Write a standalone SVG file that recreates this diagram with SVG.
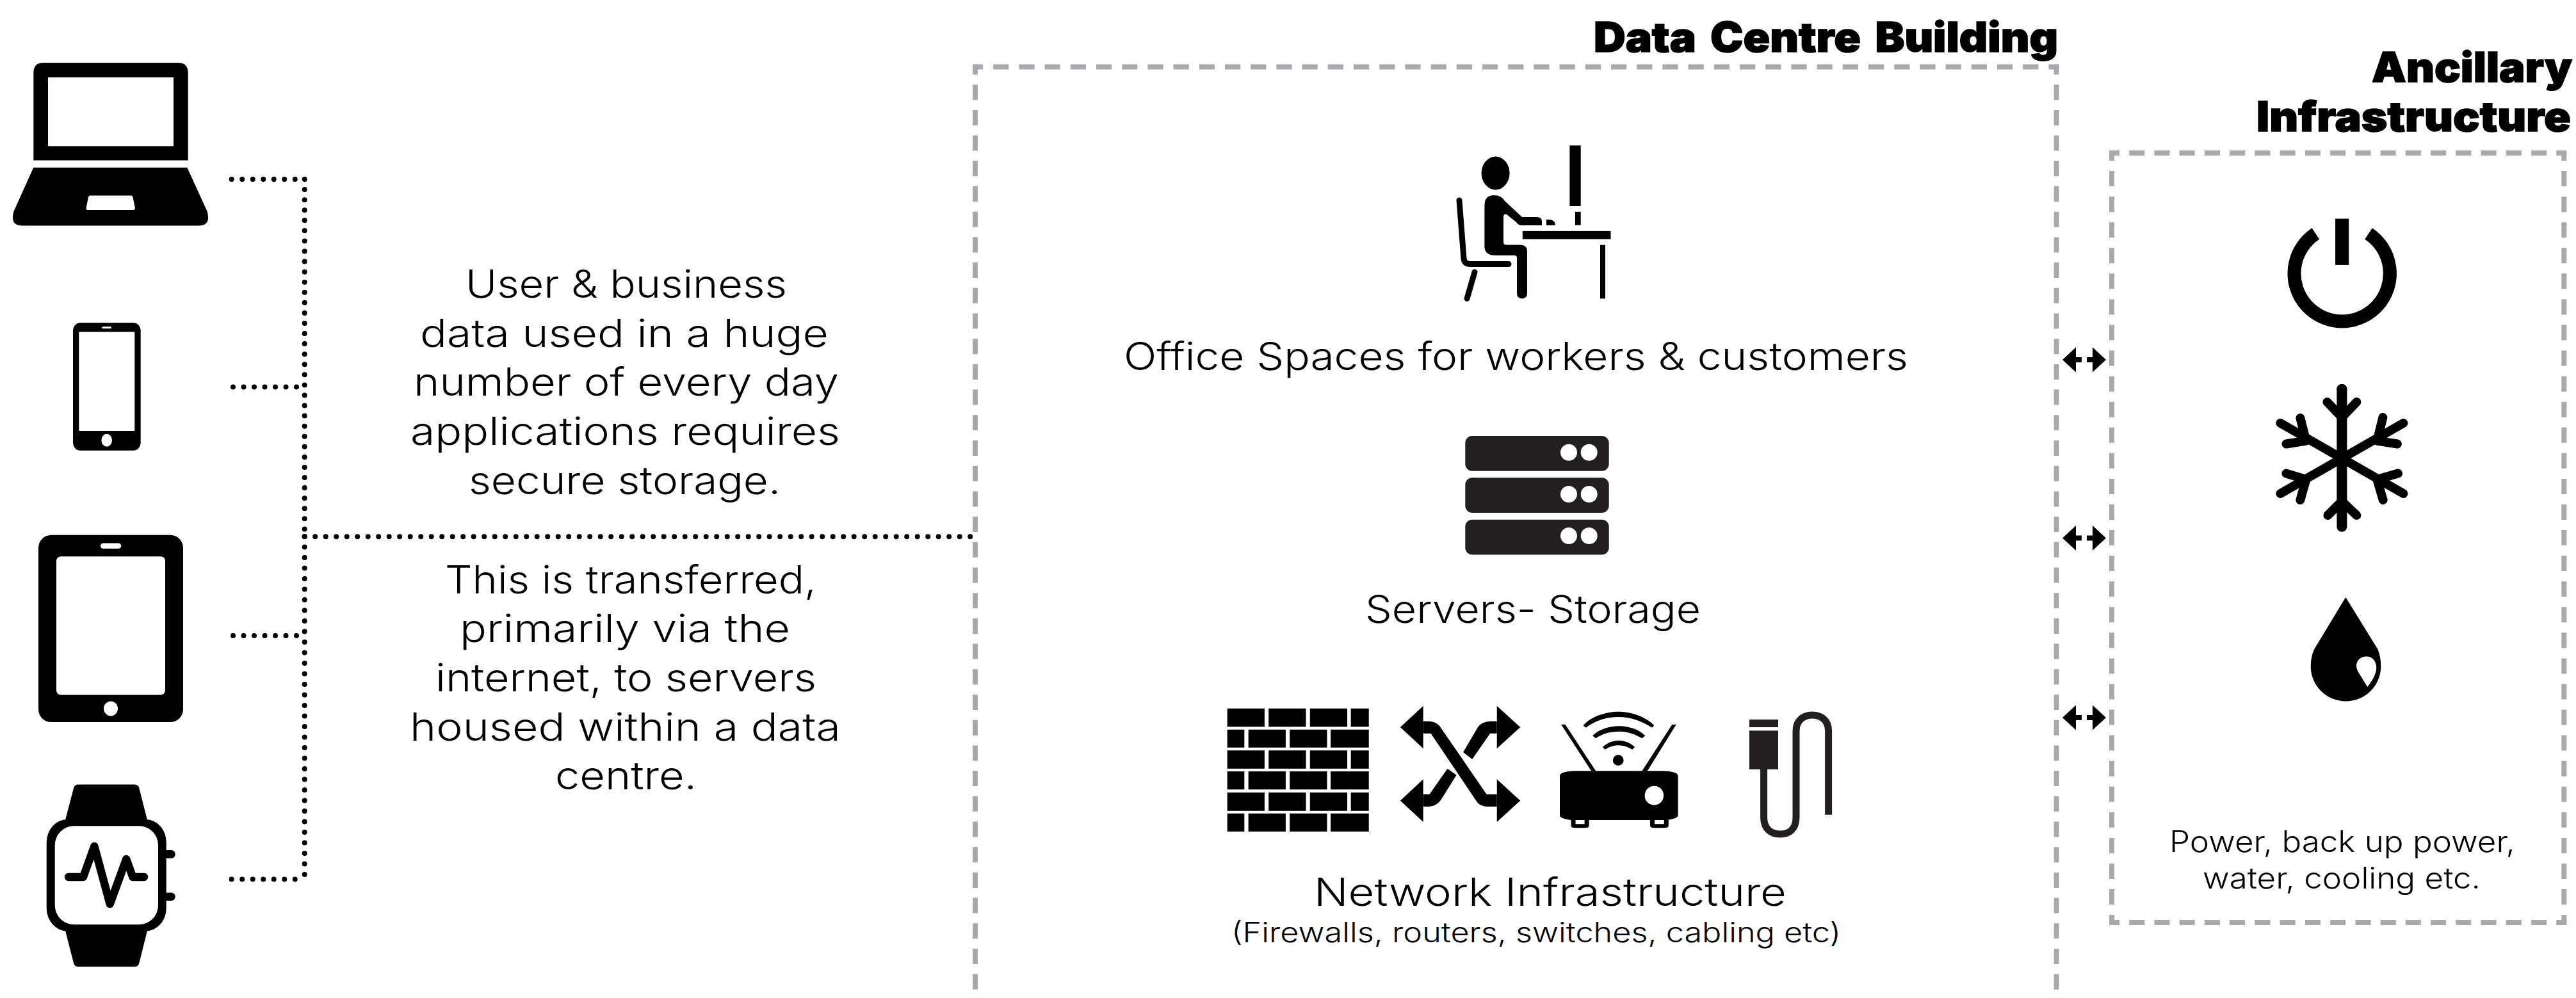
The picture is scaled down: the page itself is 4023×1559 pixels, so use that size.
<svg xmlns="http://www.w3.org/2000/svg" width="4023" height="1559" viewBox="0 0 4023 1559">
<style>
text{fill:#000;font-family:"Inter","Liberation Sans",sans-serif;font-weight:300;text-anchor:start}
.b{font-size:60px}
.t{font-size:64px;font-weight:900;stroke:#000;stroke-width:1.5px;word-spacing:8px}
.s{font-size:43px}
.p{font-size:46px}
.dot{fill:none;stroke:#000;stroke-width:8;stroke-linecap:round;stroke-dasharray:0 16.5}
.dotv{fill:none;stroke:#000;stroke-width:8;stroke-linecap:round;stroke-dasharray:0 16.07}
.box{fill:none;stroke:#a7a9ac;stroke-width:8;stroke-dashoffset:8}
.bh{stroke-dasharray:24.2 16}
.bv{stroke-dasharray:24 15.7}
.ah{stroke-dasharray:24 15.24}
.av{stroke-dasharray:24 16.07}
.w{fill:#fff}
.k{fill:#000}
.d{fill:#231f20}
.ln{fill:none;stroke:#000;stroke-linecap:round;stroke-linejoin:round}
</style>
<defs>
<path id="arr" d="M0,0 L21,-19.5 V-4 H30 V4 H21 V19.5 Z M68,0 L47,-19.5 V-4 H38 V4 H47 V19.5 Z"/>
</defs>
<rect width="4023" height="1559" fill="#fff"/>
<g id="connectors">
<path class="dotv" d="M475.7,280 V838"/>
<path class="dot" d="M475.7,838 V1373.6"/>
<path class="dot" d="M361.7,280 H477"/>
<path class="dot" d="M364,604.6 H477"/>
<path class="dot" d="M364,993 H477"/>
<path class="dot" d="M361.7,1373.6 H477"/>
<path class="dot" d="M475.7,838.2 H1522"/>
<use href="#arr" x="3221" y="562"/>
<use href="#arr" x="3221" y="840.6"/>
<use href="#arr" x="3221" y="1121"/>
</g>
<g id="data-centre-building">
<path class="box bh" d="M1519,104.5 H3215.7"/>
<path class="box bv" d="M1523,100.5 V1559"/>
<path class="box bv" d="M3211.7,100.5 V1559"/>
<text class="t" x="2489" y="81" textLength="725" lengthAdjust="spacingAndGlyphs">Data Centre Building</text>
</g>
<g id="ancillary-infrastructure">
<path class="box ah" d="M3294,239 H4008.3"/>
<path class="box ah" d="M3294,1441 H4008.3"/>
<path class="box av" d="M3298,235 V1445"/>
<path class="box av" d="M4004.3,235 V1445"/>
<text class="t" x="3704" y="128" textLength="313" lengthAdjust="spacingAndGlyphs">Ancillary</text>
<text class="t" x="3524" y="204.7" textLength="491" lengthAdjust="spacingAndGlyphs">Infrastructure</text>
<text class="p" x="3388" y="1331" textLength="540" lengthAdjust="spacingAndGlyphs">Power, back up power,</text>
<text class="p" x="3440" y="1388.4" textLength="434" lengthAdjust="spacingAndGlyphs">water, cooling etc.</text>
</g>
<g id="laptop">
<path class="k" d="M52.3,250.6 V114 Q52.3,98 68,98 H278 Q293.7,98 293.7,114 V250.6 Z"/>
<rect class="w" x="75" y="120.7" width="196" height="107.6"/>
<path class="k" d="M52.3,261.8 H292.3 L323.5,330 Q330,352.4 310,352.4 H35 Q15,352.4 21.5,330 Z"/>
<path class="w" d="M140.5,305.5 H205 Q207,305.5 207.5,308 L211,325 Q211,327.9 208,327.9 H137 Q134,327.9 134.5,325 L138,308 Q138.5,305.5 140.5,305.5 Z"/>
</g>
<g id="phone">
<rect class="k" x="114" y="504.2" width="105.7" height="199.6" rx="11" ry="13"/>
<rect class="w" x="123.3" y="518.5" width="87" height="154.5" rx="1"/>
<rect class="w" x="159.3" y="510.3" width="14.7" height="3" rx="1.5"/>
<ellipse class="w" cx="166.7" cy="687.7" rx="8.3" ry="10"/>
</g>
<g id="tablet">
<rect class="k" x="60" y="835.8" width="226" height="292.2" rx="20" ry="20"/>
<rect class="w" x="88" y="869.2" width="170" height="216.4" rx="7"/>
<rect class="w" x="157" y="848.4" width="32.3" height="8.7" rx="4.3"/>
<ellipse class="w" cx="173" cy="1106.9" rx="11" ry="11.5"/>
</g>
<g id="watch">
<path class="k" d="M101,1285 L115,1231 Q116.5,1225.5 122.5,1225.5 H210 Q216,1225.5 217.3,1231 L231,1285 Z"/>
<path class="k" d="M101,1450 L115,1504.5 Q116.5,1510 122.5,1510 H210 Q216,1510 217.3,1504.5 L231,1450 Z"/>
<rect class="k" x="255" y="1328" width="18.7" height="12.7" rx="6"/>
<rect class="k" x="255" y="1394.4" width="18.7" height="12.7" rx="6"/>
<rect class="k" x="72.7" y="1280" width="187" height="174.4" rx="32" ry="36"/>
<rect class="w" x="85.7" y="1290.3" width="161.3" height="153.9" rx="30" ry="30"/>
<path class="ln" stroke-width="12.5" d="M107,1370 H130 L147.3,1322 L171.7,1412 L197.3,1342 L207.3,1370 H225"/>
</g>
<g id="office-spaces">
<rect class="k" x="2451.4" y="227.3" width="17.3" height="94.7"/>
<rect class="k" x="2460" y="330.8" width="8.7" height="21"/>
<path class="k" d="M2415,343 Q2429,342 2429,352 H2415 Z"/>
<rect class="k" x="2377.8" y="360.9" width="137.7" height="12.6"/>
<rect class="k" x="2499" y="382.6" width="8" height="83.8"/>
<ellipse class="k" cx="2335.6" cy="270.5" rx="22" ry="25.9"/>
<path class="k" d="M2318.4,321 Q2318.4,305 2333,305 Q2345,305 2350,314 L2377,339 H2400 Q2408,339 2408,346 V352 H2376 Q2371,352 2368,347 L2353,335 Q2348,333 2348,340 V378 Q2348,382.6 2353,382.6 H2374 Q2385,382.6 2385,393 V458 Q2385,466.4 2377,466.4 Q2369,466.4 2369,458 V403 Q2369,399 2365,399 H2336 Q2318.4,399 2318.4,385 Z"/>
<path class="ln" stroke-width="9" d="M2279,313 L2286,404 Q2287,412.5 2296,412.5 H2356" stroke-linecap="butt"/>
<path class="ln" stroke-width="9" stroke-linecap="butt" d="M2303,425 L2291,466.4"/>
<text class="b" x="1755" y="578" textLength="1225" lengthAdjust="spacingAndGlyphs">Office Spaces for workers &amp; customers</text>
</g>
<g id="servers">
<rect class="d" x="2288.3" y="681" width="224.4" height="54.7" rx="11"/>
<rect class="d" x="2288.3" y="746.3" width="224.4" height="54.7" rx="11"/>
<rect class="d" x="2288.3" y="811.7" width="224.4" height="54.7" rx="11"/>
<circle class="w" cx="2450" cy="706.7" r="13"/><circle class="w" cx="2481.7" cy="706.7" r="13"/>
<circle class="w" cx="2450" cy="772" r="13"/><circle class="w" cx="2481.7" cy="772" r="13"/>
<circle class="w" cx="2450" cy="837" r="13"/><circle class="w" cx="2481.7" cy="837" r="13"/>
<text class="b" x="2132" y="973" textLength="524" lengthAdjust="spacingAndGlyphs">Servers- Storage</text>
</g>
<g id="network-infrastructure">
<g id="firewall" transform="translate(1850,1080) scale(0.7018,0.3333)">
<path class="k" d="M95,80H178V166H95Z M187,80H270V166H187Z M279,80H362V166H279Z M370,80H410V166H370Z
M95,179H133V263H95Z M142,179H225V263H142Z M234,179H317V263H234Z M325,179H410V263H325Z
M95,277H178V362H95Z M187,277H270V362H187Z M279,277H362V362H279Z M370,277H410V362H370Z
M95,375H133V460H95Z M142,375H225V460H142Z M234,375H317V460H234Z M325,375H410V460H325Z
M95,474H178V560H95Z M187,474H270V560H187Z M279,474H362V560H279Z M370,474H410V560H370Z
M95,572H133V657H95Z M142,572H225V657H142Z M234,572H317V657H234Z M325,572H410V657H325Z"/>
</g>
<g id="switch" transform="translate(1850,1080) scale(0.7018,0.3333)">
<path class="k" d="M480,168 L531,68 V268 Z M747,168 L695,68 V268 Z M480,512 L531,412 V612 Z M747,512 L695,412 V612 Z"/>
<path class="k" d="M531,140 H545 Q562,142 570,170 L672,482 H695 V540 H672 Q655,538 648,510 L548,197 H531 Z"/>
<path class="k" d="M695,140 H680 Q660,142 652,170 L620,285 L640,318 L680,197 H695 Z"/>
<path class="k" d="M531,482 H545 L585,362 L605,392 L570,510 Q560,538 545,540 H531 Z"/>
</g>
<g id="router" transform="translate(1850,1080) scale(0.7018,0.3333)">
<rect class="k" x="835" y="373" width="263" height="230" rx="32" ry="22"/>
<ellipse class="w" cx="1045" cy="488" rx="21" ry="45"/>
<path class="k" d="M860,603 H900 V630 Q900,640 890,640 H870 Q860,640 860,630 Z M1036,603 H1077 V630 Q1077,640 1067,640 H1046 Q1036,640 1036,630 Z"/>
<path class="w" d="M870,603 H890 V622 H870 Z M1046,603 H1067 V622 H1046 Z"/>
<path class="k" d="M838,155 L847,155 L915,373 H905 Z M1085,155 L1094,155 L1030,373 H1018 Z"/>
<path class="k" d="M887,160 C905,115 940,95 965,95 C990,95 1025,115 1045,160 L1040,170 C1015,135 990,120 965,120 C940,120 915,135 893,170 Z"/>
<path class="k" d="M908,208 C920,180 945,163 966,163 C990,163 1012,180 1025,208 L1018,220 C1000,198 985,188 966,188 C947,188 930,198 915,220 Z"/>
<path class="k" d="M930,262 C940,240 955,230 966,230 C978,230 992,240 1002,262 L996,272 C985,258 975,253 966,253 C957,253 947,258 936,272 Z"/>
<ellipse class="k" cx="965" cy="323" rx="12" ry="25"/>
</g>
<g id="cable">
<rect class="d" x="2732" y="1124" width="45" height="12"/>
<rect class="d" x="2732" y="1141.3" width="45" height="60.4"/>
<path fill="none" stroke="#231f20" stroke-width="11" d="M2754.6,1201 V1277 C2754.6,1295 2766,1303 2780,1303 C2794,1303 2805,1295 2805,1277 V1142 C2805,1125 2817,1117 2830,1117 C2844,1117 2855.6,1125 2855.6,1142 V1272.7"/>
</g>
<text class="b" x="2052" y="1415" textLength="738" lengthAdjust="spacingAndGlyphs">Network Infrastructure</text>
<text class="s" x="1923" y="1471.7" textLength="952" lengthAdjust="spacingAndGlyphs">(Firewalls, routers, switches, cabling etc)</text>
</g>
<g id="power" transform="translate(-2.6,0)">
<path fill="none" stroke="#000" stroke-width="21" d="M3619,365 A74.7,74.7 0 1 0 3701.6,365"/>
<rect class="k" x="3649.7" y="341.6" width="21.1" height="72.3"/>
</g>
<g id="cooling" transform="translate(-2.6,0)">
<path class="ln" stroke-width="16" stroke-linecap="butt" d="M3660,608 V822.8"/>
<circle class="k" cx="3660" cy="608" r="8"/>
<path class="ln" stroke-width="14" d="M3564,661 L3756,771 M3756,661 L3564,771"/>
<path class="ln" stroke-width="14" d="M3637,628 L3660,652 L3683,628 M3638,805 L3660,783 L3683,805 M3595,653 L3604,688.6 L3573,693.5 M3724,652 L3715,688.6 L3746.5,693.5 M3573,739.6 L3604,749 L3595,781 M3747.6,739.6 L3715,749 L3724.3,781"/>
</g>
<g id="water" transform="translate(-2.7,0)">
<path class="k" d="M3666,933 L3716,1014 Q3721,1026 3721,1041 A54.8,54.5 0 0 1 3611.4,1041 Q3611.4,1026 3617,1014 Z"/>
<path class="w" d="M3698,1025.4 C3708,1025.4 3714,1033 3714,1043 C3714,1052 3708,1063 3700,1073 L3687,1052 C3684,1047 3682.7,1044 3682.7,1040 C3682.7,1032 3689,1025.4 3698,1025.4 Z"/>
</g>
<g id="description">
<text class="b" x="727" y="465" textLength="502" lengthAdjust="spacingAndGlyphs">User &amp; business</text>
<text class="b" x="656" y="541.7" textLength="638" lengthAdjust="spacingAndGlyphs">data used in a huge</text>
<text class="b" x="646" y="618.3" textLength="664" lengthAdjust="spacingAndGlyphs">number of every day</text>
<text class="b" x="641" y="695" textLength="671" lengthAdjust="spacingAndGlyphs">applications requires</text>
<text class="b" x="732" y="771.7" textLength="487" lengthAdjust="spacingAndGlyphs">secure storage.</text>
<text class="b" x="695" y="926.5" textLength="580" lengthAdjust="spacingAndGlyphs">This is transferred,</text>
<text class="b" x="718" y="1003.2" textLength="516" lengthAdjust="spacingAndGlyphs">primarily via the</text>
<text class="b" x="680" y="1080" textLength="595" lengthAdjust="spacingAndGlyphs">internet, to servers</text>
<text class="b" x="640" y="1156.7" textLength="673" lengthAdjust="spacingAndGlyphs">housed within a data</text>
<text class="b" x="867" y="1233.4" textLength="221" lengthAdjust="spacingAndGlyphs">centre.</text>
</g>
</svg>
